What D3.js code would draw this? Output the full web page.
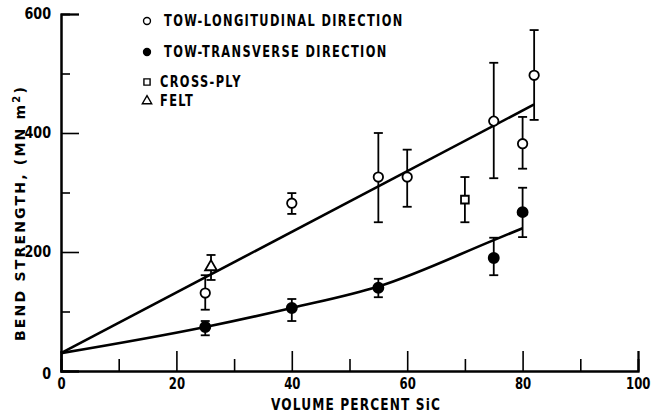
<!DOCTYPE html>
<html>
<head>
<meta charset="utf-8">
<script src="https://cdn.jsdelivr.net/npm/d3@7"></script>
<style>
  body { margin: 0; background: #fff; }
  svg { display: block; }
  text { font-family: "DejaVu Sans", sans-serif; font-weight: bold; fill: #000; }
</style>
</head>
<body>
<div id="chart"></div>
<script>
// tow, longitudinal direction (open circles)
var longX  = [25, 40, 55, 60, 75, 80, 82];
var longY  = [131, 282, 326, 326, 420, 382, 497];
var longLo = [103, 264, 250, 276, 324, 340, 422];
var longHi = [161, 299, 400, 372, 518, 427, 573];

// tow, transverse direction (filled circles)
var transX  = [25, 40, 55, 75, 80];
var transY  = [74, 106, 140, 190, 267];
var transLo = [60, 84, 124, 161, 225];
var transHi = [84, 121, 155, 224, 308];

// cross-ply (square) and felt (triangle)
var crossX = [70], crossY = [288], crossLo = [250], crossHi = [326];
var feltX = [26], feltY = [175], feltLo = [153], feltHi = [195];

// fitted lines
var longFitX = [0, 82];
var longFitY = [30, 448];
var transFitX = [0, 25, 40, 55, 75, 80];
var transFitY = [30, 74, 106, 142, 220, 240];

var xMajor = [0, 20, 40, 60, 80, 100];
var xMinor = [10, 30, 50, 70, 90];
var yMajor = [0, 200, 400, 600];
var yMinor = [100, 300, 500];

var legendLabels = ["TOW-LONGITUDINAL DIRECTION", "TOW-TRANSVERSE DIRECTION", "CROSS-PLY", "FELT"];

var W = 651, H = 416;

var svg = d3.select("#chart").append("svg")
	.attr("width", W).attr("height", H);

var x = d3.scaleLinear().domain([0, 100]).range([61, 638]);
var y = d3.scaleLinear().domain([0, 600]).range([371, 14]);

// axes, ticks pointing inward
var xAxis = svg.append("g").attr("transform", "translate(0," + y(0) + ")")
	.call(d3.axisBottom(x).tickValues(xMajor).tickSize(-20).tickPadding(7).tickFormat(d3.format("d")));
svg.append("g").attr("transform", "translate(0," + y(0) + ")")
	.call(d3.axisBottom(x).tickValues(xMinor).tickSize(-12).tickFormat(""));

var yAxis = svg.append("g").attr("transform", "translate(" + x(0) + ",0)")
	.call(d3.axisLeft(y).tickValues(yMajor).tickSize(-18).tickPadding(10).tickFormat(d3.format("d")));
svg.append("g").attr("transform", "translate(" + x(0) + ",0)")
	.call(d3.axisLeft(y).tickValues(yMinor).tickSize(-9).tickFormat(""));

svg.selectAll(".domain").attr("stroke", "#000").attr("stroke-width", 2);
svg.selectAll(".tick line").attr("stroke", "#000").attr("stroke-width", 1.6);

// narrow lettering, like the stencil figures of the original
var sq = 0.78;
xAxis.selectAll(".tick text").attr("font-size", 15).attr("transform", "scale(" + sq + ",1)");
yAxis.selectAll(".tick text").attr("font-size", 15)
	.attr("transform", "scale(0.85,1)")
	.attr("x", -10 / 0.85);

// y zero sits a little low, left of the axis
yAxis.selectAll(".tick text").filter(function (d) { return d == 0; }).attr("dy", "0.5em");
// keep the 100 inside the picture
xAxis.selectAll(".tick text").filter(function (d) { return d == 100; })
	.attr("text-anchor", "end").attr("x", 12 / sq);

// axis titles
svg.append("text")
	.attr("transform", "translate(356,410) scale(0.76,1)")
	.attr("text-anchor", "middle")
	.attr("font-size", 16)
	.attr("letter-spacing", 1.5)
	.text("VOLUME PERCENT SiC");

var yt = svg.append("text")
	.attr("transform", "translate(25,213) rotate(-90)")
	.attr("text-anchor", "middle")
	.attr("font-size", 14)
	.attr("letter-spacing", 2.2);
yt.append("tspan").text("BEND STRENGTH, (MN m");
yt.append("tspan").attr("dy", -5).attr("font-size", 10).text("2");
yt.append("tspan").attr("dy", 5).text(")");

// fit lines
var line = d3.line()
	.x(function (d) { return x(d[0]); })
	.y(function (d) { return y(d[1]); })
	.curve(d3.curveMonotoneX);

svg.append("path")
	.datum(longFitX.map(function (d, i) { return [d, longFitY[i]]; }))
	.attr("d", line).attr("fill", "none").attr("stroke", "#000").attr("stroke-width", 2.6);

svg.append("path")
	.datum(transFitX.map(function (d, i) { return [d, transFitY[i]]; }))
	.attr("d", line).attr("fill", "none").attr("stroke", "#000").attr("stroke-width", 2.6);

// error bars
var drawBars = function (xs, lo, hi) {
	var g = svg.append("g").attr("stroke", "#000").attr("stroke-width", 1.8);
	xs.forEach(function (d, i) {
		g.append("line").attr("x1", x(d)).attr("x2", x(d)).attr("y1", y(lo[i])).attr("y2", y(hi[i]));
		g.append("line").attr("x1", x(d) - 4.5).attr("x2", x(d) + 4.5).attr("y1", y(lo[i])).attr("y2", y(lo[i]));
		g.append("line").attr("x1", x(d) - 4.5).attr("x2", x(d) + 4.5).attr("y1", y(hi[i])).attr("y2", y(hi[i]));
	});
};

drawBars(longX, longLo, longHi);
drawBars(transX, transLo, transHi);
drawBars(crossX, crossLo, crossHi);
drawBars(feltX, feltLo, feltHi);

// markers
var sym = function (type, size) { return d3.symbol().type(type).size(size)(); };

var pts = function (xs, ys, type, size, fill) {
	svg.append("g").selectAll("path").data(xs).enter().append("path")
		.attr("d", sym(type, size))
		.attr("transform", function (d, i) { return "translate(" + x(d) + "," + y(ys[i]) + ")"; })
		.attr("fill", fill).attr("stroke", "#000").attr("stroke-width", 1.8);
};

pts(longX, longY, d3.symbolCircle, 70, "#fff");
pts(transX, transY, d3.symbolCircle, 80, "#000");
pts(crossX, crossY, d3.symbolSquare, 60, "#fff");
pts(feltX, feltY, d3.symbolTriangle, 60, "#fff");

// legend
var legTypes = [d3.symbolCircle, d3.symbolCircle, d3.symbolSquare, d3.symbolTriangle];
var legFill = ["#fff", "#000", "#fff", "#fff"];
var legY = [21, 52, 82, 101];

var leg = svg.append("g");
legendLabels.forEach(function (t, i) {
	leg.append("path")
		.attr("d", sym(legTypes[i], 38))
		.attr("transform", "translate(147," + legY[i] + ")")
		.attr("fill", legFill[i]).attr("stroke", "#000").attr("stroke-width", 1.4);
	leg.append("text")
		.attr("transform", "translate(" + (i < 2 ? 164 : 160) + "," + legY[i] + ") scale(0.76,1)")
		.attr("dy", "0.36em")
		.attr("font-size", 15).attr("letter-spacing", 1.8)
		.text(t);
});
</script>
</body>
</html>
